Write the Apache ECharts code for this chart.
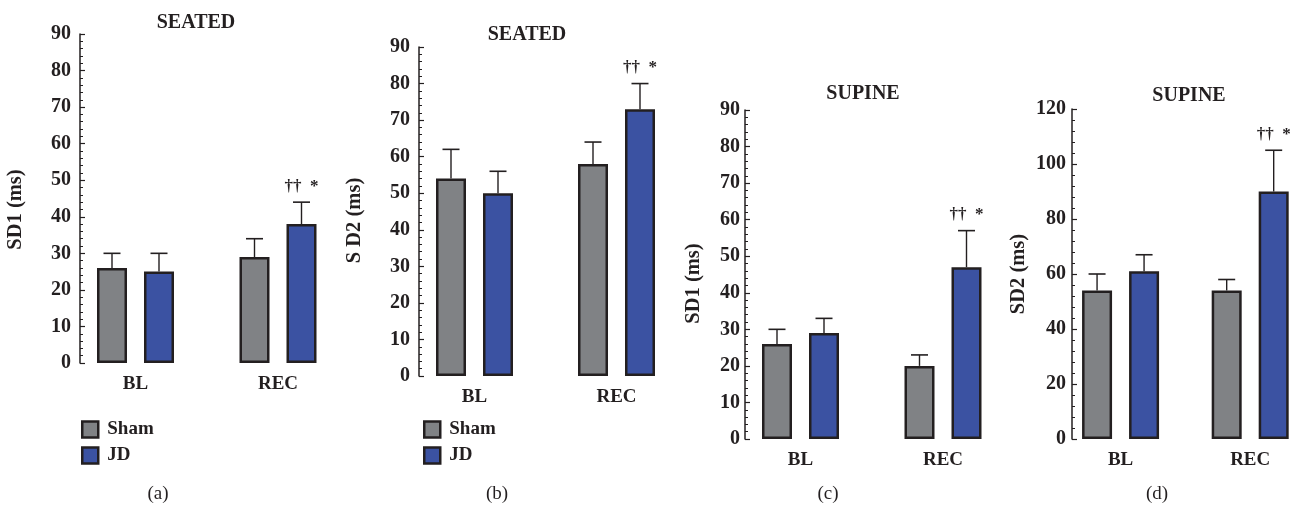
<!DOCTYPE html>
<html>
<head>
<meta charset="utf-8">
<script src="https://cdn.jsdelivr.net/npm/echarts@6/dist/echarts.min.js"></script>
<style>
html,body{margin:0;padding:0;background:#fff;}
#main{width:1315px;height:507px;}
</style>
</head>
<body>
<div id="main"></div>
<script>
// ---------- data ----------
const categories = ['BL', 'REC'];
const seriesNames = ['Sham', 'JD'];
const panelTitles = ['SEATED', 'SEATED', 'SUPINE', 'SUPINE'];
const panelLetters = ['(a)', '(b)', '(c)', '(d)'];
const yAxisNames = ['SD1 (ms)', 'S D2 (ms)', 'SD1 (ms)', 'SD2 (ms)'];
const yMaxValues = [90, 90, 90, 120];
const yIntervals = [10, 10, 10, 20];

// panel (a) seated SD1
const shamA = [26, 29];
const shamA_SD = [4, 5];
const jdA = [25, 38];
const jdA_SD = [5, 6];
// panel (b) seated SD2
const shamB = [54, 58];
const shamB_SD = [8, 6];
const jdB = [50, 73];
const jdB_SD = [6, 7];
// panel (c) supine SD1
const shamC = [26, 20];
const shamC_SD = [4, 3];
const jdC = [29, 47];
const jdC_SD = [4, 10];
// panel (d) supine SD2
const shamD = [54, 54];
const shamD_SD = [6, 4];
const jdD = [61, 90];
const jdD_SD = [6, 15];

const annotationText = '\u2020\u2020\u2002*';
const annotationCategory = 1; // REC, on JD bar

// ---------- styles / layout ----------
const FONT = 'Liberation Serif';
const INK = '#231f20';
const SHAM_COLOR = '#808285';
const JD_COLOR = '#3b52a2';
const BAR_W = 30;
const BAR_GAP = 17 / 30;
const HALF_SHIFT = (BAR_W + BAR_W * BAR_GAP) / 2;

const panels = [
  {sham: shamA, shamSD: shamA_SD, jd: jdA, jdSD: jdA_SD, grid: {left: 64.25, top: 34, width: 285, height: 329}, offset: -15.75, margin: 9, title: {x: 196, y: 13}, letter: {x: 158, y: 485}, nameGap: 54, namePad: [0, 22, 0, 0], legend: {left: 81, top: 420}},
  {sham: shamB, shamSD: shamB_SD, jd: jdB, jdSD: jdB_SD, grid: {left: 403.5, top: 47, width: 284, height: 329}, offset: -15.5, margin: 9, title: {x: 527, y: 25}, letter: {x: 497, y: 485}, nameGap: 54, namePad: [0, 18, 0, 0], legend: {left: 423, top: 420}},
  {sham: shamC, shamSD: shamC_SD, jd: jdC, jdSD: jdC_SD, grid: {left: 729.25, top: 110, width: 285, height: 329}, offset: -15.75, margin: 5, title: {x: 863, y: 84}, letter: {x: 828, y: 485}, nameGap: 41, namePad: [0, 18, 0, 0], legend: null},
  {sham: shamD, shamSD: shamD_SD, jd: jdD, jdSD: jdD_SD, grid: {left: 1055.75, top: 109, width: 285, height: 330}, offset: -16.25, margin: 6, title: {x: 1189, y: 86}, letter: {x: 1157, y: 485}, nameGap: 43, namePad: [0, 0, 0, 0], legend: null}
];

const grids = [], xAxes = [], yAxes = [], series = [], titles = [], legends = [];

function errorSeries(idx, means, sds, shift, annotate) {
  const data = means.map((m, i) => [i, m, m + sds[i]]);
  return {
    type: 'custom',
    xAxisIndex: idx, yAxisIndex: idx,
    z: 5,
    silent: true,
    data: data,
    renderItem: function (params, api) {
      const cat = api.value(0);
      const base = api.coord([cat, api.value(1)]);
      const top = api.coord([cat, api.value(2)]);
      const x = base[0] + shift;
      const children = [
        {type: 'line', shape: {x1: x, y1: base[1], x2: x, y2: top[1]}, style: {stroke: INK, lineWidth: 1.4}},
        {type: 'line', shape: {x1: x - 8.5, y1: top[1], x2: x + 8.5, y2: top[1]}, style: {stroke: INK, lineWidth: 1.6}}
      ];
      if (annotate && cat === annotationCategory) {
        children.push({type: 'text', x: x, y: top[1] - 16, style: {text: annotationText, font: 'bold 17px "' + FONT + '"', fill: INK, align: 'center', verticalAlign: 'middle'}});
      }
      return {type: 'group', children: children};
    }
  };
}

panels.forEach((p, i) => {
  grids.push(Object.assign({containLabel: false}, p.grid));
  xAxes.push({
    type: 'category', gridIndex: i, data: categories, boundaryGap: true,
    axisLine: {show: false}, axisTick: {show: false},
    axisLabel: {color: INK, fontFamily: FONT, fontWeight: 'bold', fontSize: 19, margin: 12}
  });
  yAxes.push({
    type: 'value', gridIndex: i, min: 0, max: yMaxValues[i], interval: yIntervals[i],
    offset: p.offset,
    name: yAxisNames[i], nameLocation: 'middle', nameGap: p.nameGap, nameRotate: 90,
    nameTextStyle: {color: INK, fontFamily: FONT, fontWeight: 'bold', fontSize: 20.5, padding: p.namePad},
    axisLine: {show: true, lineStyle: {color: INK, width: 1.5}},
    axisTick: {show: true, inside: true, length: 5, lineStyle: {color: INK, width: 1.2}},
    minorTick: {show: true, splitNumber: 5, length: 3, lineStyle: {color: INK, width: 1}},
    splitLine: {show: false},
    axisLabel: {color: INK, fontFamily: FONT, fontWeight: 'bold', fontSize: 20, margin: p.margin}
  });
  series.push({
    type: 'bar', name: seriesNames[0], xAxisIndex: i, yAxisIndex: i, data: p.sham,
    barWidth: BAR_W, barGap: (BAR_GAP * 100) + '%',
    itemStyle: {color: SHAM_COLOR, borderColor: INK, borderWidth: 2.5}
  });
  series.push({
    type: 'bar', name: seriesNames[1], xAxisIndex: i, yAxisIndex: i, data: p.jd,
    barWidth: BAR_W, barGap: (BAR_GAP * 100) + '%',
    itemStyle: {color: JD_COLOR, borderColor: INK, borderWidth: 2.5}
  });
  series.push(errorSeries(i, p.sham, p.shamSD, -HALF_SHIFT, false));
  series.push(errorSeries(i, p.jd, p.jdSD, HALF_SHIFT, true));
  titles.push({text: panelTitles[i], left: p.title.x, top: p.title.y, textAlign: 'center', padding: 0,
    textStyle: {color: INK, fontFamily: FONT, fontWeight: 'bold', fontSize: 20}});
  titles.push({text: panelLetters[i], left: p.letter.x, top: p.letter.y, textAlign: 'center', padding: 0,
    textStyle: {color: INK, fontFamily: FONT, fontWeight: 'normal', fontSize: 19}});
  if (p.legend) {
    legends.push({
      left: p.legend.left, top: p.legend.top, orient: 'vertical', padding: 0,
      data: seriesNames, icon: 'rect', itemWidth: 16, itemHeight: 16, itemGap: 7,
      selectedMode: false,
      itemStyle: {borderColor: INK, borderWidth: 2.5},
      textStyle: {color: INK, fontFamily: FONT, fontWeight: 'bold', fontSize: 19, padding: [0, 0, 0, 4]}
    });
  }
});

const chart = echarts.init(document.getElementById('main'), null, {renderer: 'canvas'});
chart.setOption({
  animation: false,
  backgroundColor: '#ffffff',
  title: titles,
  legend: legends,
  grid: grids,
  xAxis: xAxes,
  yAxis: yAxes,
  series: series
});
</script>
</body>
</html>
